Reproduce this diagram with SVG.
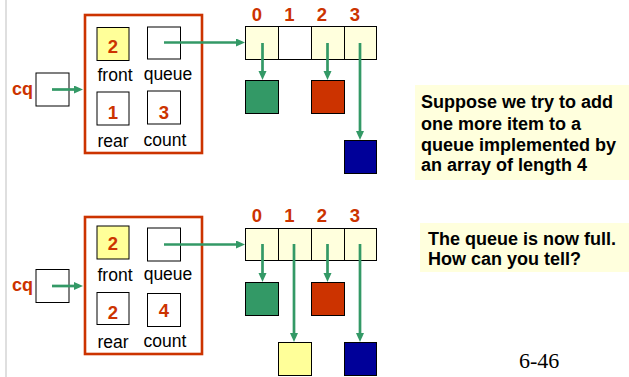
<svg xmlns="http://www.w3.org/2000/svg" width="629" height="377" viewBox="0 0 629 377">
<style>
.bg{fill:#ffffff}
.cont{fill:none;stroke:#cc3300;stroke-width:2.6}
.box{fill:#ffffff;stroke:#000000;stroke-width:1}
.yel{fill:#ffff99;stroke:#000000;stroke-width:1}
.cell{fill:#ffffdd;stroke:#000000;stroke-width:1}
.cellw{fill:#ffffff;stroke:#000000;stroke-width:1}
.grn{fill:#339966;stroke:#000000;stroke-width:1}
.red{fill:#cc3300;stroke:#000000;stroke-width:1}
.blu{fill:#000099;stroke:#000000;stroke-width:1}
.lbl{font-family:"Liberation Sans",Arial,sans-serif;font-size:17.5px;fill:#000000;text-anchor:middle}
.num{font-family:"Liberation Sans",Arial,sans-serif;font-size:18.5px;font-weight:bold;fill:#cc3300;text-anchor:middle}
.cq{font-family:"Liberation Sans",Arial,sans-serif;font-size:18px;font-weight:bold;fill:#cc3300}
.note{font-family:"Liberation Sans",Arial,sans-serif;font-size:18px;font-weight:bold;fill:#000000}
.notebg{fill:#ffffdd}
.pg{font-family:"Liberation Serif","Times New Roman",serif;font-size:22px;fill:#000000}
.arr{stroke:#339966;stroke-width:2.7;fill:none;marker-end:url(#ah)}
</style>
<defs>
<marker id="ah" markerUnits="userSpaceOnUse" markerWidth="10" markerHeight="9" refX="5" refY="4" orient="auto">
<path d="M0,0 L9,4 L0,8 z" fill="#339966"/>
</marker>
</defs>
<rect class="bg" x="0" y="0" width="629" height="377"/>
<line x1="6" y1="0" x2="6" y2="377" stroke="#d4d4d4" stroke-width="1.5"/>

<!-- Top scene -->
<g id="cq-top">
<text class="cq" x="12" y="95">cq</text>
<rect class="box" x="36" y="73" width="33" height="33"/>
</g>
<g id="struct-top">
<rect class="cont" x="85" y="15" width="117" height="138"/>
</g>
<g id="front-top">
<rect class="yel" x="97" y="27.5" width="32" height="33"/>
<text class="num" x="113" y="53">2</text>
<text class="lbl" x="115" y="81">front</text>
</g>
<g id="queue-top">
<rect class="box" x="147.5" y="27" width="33" height="32"/>
<text class="lbl" x="168" y="80">queue</text>
</g>
<g id="rear-top">
<rect class="box" x="97" y="92" width="32" height="33"/>
<text class="num" x="113" y="119">1</text>
<text class="lbl" x="113" y="146.5">rear</text>
</g>
<g id="count-top">
<rect class="box" x="147.5" y="91" width="33" height="33"/>
<text class="num" x="164" y="118.5">3</text>
<text class="lbl" x="165" y="145.5">count</text>
</g>
<g id="array-top">
<text class="num" x="257" y="20.5">0</text>
<text class="num" x="289.5" y="20.5">1</text>
<text class="num" x="322" y="20.5">2</text>
<text class="num" x="355" y="20.5">3</text>
<rect class="cell" x="245.5" y="26.5" width="33" height="33"/>
<rect class="cellw" x="278.5" y="26.5" width="33" height="33"/>
<rect class="cell" x="311.5" y="26.5" width="33" height="33"/>
<rect class="cell" x="344.5" y="26.5" width="32" height="33"/>
</g>
<g id="item-green-top"><rect class="grn" x="245.5" y="80.5" width="33" height="33"/></g>
<g id="item-red-top"><rect class="red" x="311.5" y="80.5" width="33" height="33"/></g>
<g id="item-blue-top"><rect class="blu" x="344.5" y="140.5" width="32" height="33"/></g>

<!-- Bottom scene -->
<g id="cq-bot">
<text class="cq" x="12" y="291">cq</text>
<rect class="box" x="36" y="269.5" width="33" height="33"/>
</g>
<g id="struct-bot">
<rect class="cont" x="85" y="217" width="117" height="137"/>
</g>
<g id="front-bot">
<rect class="yel" x="97" y="226" width="32" height="33"/>
<text class="num" x="113" y="249.5">2</text>
<text class="lbl" x="115" y="280.5">front</text>
</g>
<g id="queue-bot">
<rect class="box" x="147.5" y="228" width="33" height="33"/>
<text class="lbl" x="168" y="280">queue</text>
</g>
<g id="rear-bot">
<rect class="box" x="97" y="292.5" width="32" height="32"/>
<text class="num" x="113" y="318.5">2</text>
<text class="lbl" x="113" y="347.5">rear</text>
</g>
<g id="count-bot">
<rect class="box" x="147.5" y="293.5" width="33" height="33"/>
<text class="num" x="164" y="317">4</text>
<text class="lbl" x="165" y="346.5">count</text>
</g>
<g id="array-bot">
<text class="num" x="257" y="222">0</text>
<text class="num" x="289.5" y="222">1</text>
<text class="num" x="322" y="222">2</text>
<text class="num" x="355" y="222">3</text>
<rect class="cell" x="245.5" y="228.5" width="33" height="32"/>
<rect class="cell" x="278.5" y="228.5" width="33" height="32"/>
<rect class="cell" x="311.5" y="228.5" width="33" height="32"/>
<rect class="cell" x="344.5" y="228.5" width="32" height="32"/>
</g>
<g id="item-green-bot"><rect class="grn" x="245.5" y="282.5" width="33" height="33"/></g>
<g id="item-red-bot"><rect class="red" x="311.5" y="282.5" width="33" height="33"/></g>
<g id="item-yellow-bot"><rect class="yel" x="278.5" y="342.5" width="33" height="33"/></g>
<g id="item-blue-bot"><rect class="blu" x="344.5" y="342.5" width="32" height="33"/></g>

<!-- Notes -->
<g id="note-top">
<rect class="notebg" x="415" y="85" width="214" height="95"/>
<text class="note" x="421" y="108">Suppose we try to add</text>
<text class="note" x="421" y="129.5">one more item to a</text>
<text class="note" x="421" y="150.5">queue implemented by</text>
<text class="note" x="421" y="171">an array of length 4</text>
</g>
<g id="note-bot">
<rect class="notebg" x="420" y="223" width="209" height="49"/>
<text class="note" x="428" y="245">The queue is now full.</text>
<text class="note" x="428" y="265">How can you tell?</text>
</g>
<g id="page">
<text class="pg" x="519" y="368">6-46</text>
</g>

<!-- Connectors -->
<g id="connectors">
<line class="arr" x1="52" y1="89.5" x2="79" y2="89.5"/>
<line class="arr" x1="164" y1="42.5" x2="241" y2="42.5"/>
<line class="arr" x1="262.5" y1="43" x2="262.5" y2="76"/>
<line class="arr" x1="327.5" y1="43" x2="327.5" y2="76"/>
<line class="arr" x1="360" y1="43" x2="360" y2="136"/>

<line class="arr" x1="52" y1="286" x2="79" y2="286"/>
<line class="arr" x1="164" y1="244.5" x2="241" y2="244.5"/>
<line class="arr" x1="262.5" y1="244" x2="262.5" y2="278"/>
<line class="arr" x1="327.5" y1="244" x2="327.5" y2="278"/>
<line class="arr" x1="294" y1="244" x2="294" y2="338"/>
<line class="arr" x1="360" y1="244" x2="360" y2="338"/>
</g>
</svg>
